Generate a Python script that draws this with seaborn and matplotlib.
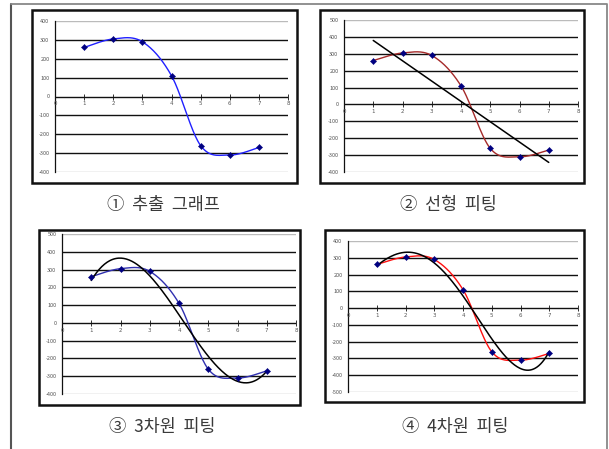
import numpy as np
import pandas as pd
import matplotlib
matplotlib.use('Agg')
import matplotlib.pyplot as plt
from matplotlib.patches import Rectangle
import seaborn as sns

# measured points
x_vals = [1, 2, 3, 4, 5, 6, 7]
y_vals = [260, 305, 290, 110, -260, -310, -270]

captions = ['①  추출  그래프', '②  선형  피팅', '③  3차원  피팅', '④  4차원  피팅']
y_ranges = [(-400, 400), (-400, 500), (-400, 500), (-500, 400)]
fit_degrees = [None, 1, 3, 4]
curve_colors = ['#2020ff', '#a52a2a', '#3030b0', '#ff1010']

sns.set_style('white')
plt.rcParams['font.family'] = ['Noto Sans CJK KR', 'DejaVu Sans']

W, H = 609, 449
fig = plt.figure(figsize=(W / 100, H / 100), dpi=100)

# background layer in pixel coordinates
bg = fig.add_axes([0, 0, 1, 1])
bg.set_xlim(0, W)
bg.set_ylim(H, 0)
bg.axis('off')
bg.plot([11, 11], [449, 4], color='#555555', lw=1.5)
bg.plot([11, 607, 607], [4, 4, 449], color='#888888', lw=1.3)

# layout per panel: chart box, plot area (x0, x8, ytop, ybottom), caption centre
boxes = [(32, 10, 297, 183), (320, 10, 584, 183), (39, 230, 300, 405), (325, 230, 584, 402)]
areas = [(55, 288, 21, 172), (344, 578, 20, 172), (62, 296, 234, 394), (348, 578, 241, 392)]
cap_pos = [(163, 205), (448, 205), (162, 427), (455, 427)]


def smooth(xs, ys, n=40):
    # Excel-like smoothed line (Catmull-Rom bezier)
    pts = np.column_stack([xs, ys]).astype(float)
    P = np.vstack([pts[0], pts, pts[-1]])
    t = np.linspace(0, 1, n)[:, None]
    segs = []
    for i in range(1, len(P) - 2):
        p0, p1, p2, p3 = P[i - 1], P[i], P[i + 1], P[i + 2]
        c1 = p1 + (p2 - p0) / 6
        c2 = p2 - (p3 - p1) / 6
        segs.append((1 - t) ** 3 * p1 + 3 * (1 - t) ** 2 * t * c1 + 3 * (1 - t) * t ** 2 * c2 + t ** 3 * p2)
    return np.vstack(segs)


df = pd.DataFrame({'x': x_vals, 'y': y_vals})

for k in range(4):
    bx0, by0, bx1, by1 = boxes[k]
    bg.add_patch(Rectangle((bx0, by0), bx1 - bx0, by1 - by0, fill=False, ec='#111111', lw=1.8))
    cx, cy = cap_pos[k]
    bg.text(cx, cy, captions[k], ha='center', va='center', fontsize=12.5, color='#3a3a3a')

    ax0, ax1, ay0, ay1 = areas[k]
    ax = fig.add_axes([ax0 / W, 1 - ay1 / H, (ax1 - ax0) / W, (ay1 - ay0) / H])
    ax.patch.set_alpha(0)
    lo, hi = y_ranges[k]
    ax.set_xlim(0, 8)
    ax.set_ylim(lo, hi)
    ticks = list(range(lo, hi + 1, 100))
    for v in ticks:
        c = '#bbbbbb' if v in (lo, hi) else '#111111'
        ax.axhline(v, color=c, lw=1.0, zorder=1)
    for s in ['top', 'right', 'bottom']:
        ax.spines[s].set_visible(False)
    ax.spines['left'].set_color('#111111')
    ax.spines['left'].set_linewidth(0.9)
    ax.set_xticks([])
    ax.set_yticks(ticks)
    ax.set_yticklabels([str(v) for v in ticks])
    ax.tick_params(axis='y', direction='out', length=2, width=0.6, labelsize=4,
                   labelcolor='#555555', pad=2, color='#111111')
    # x tick marks and labels on the zero line
    ax.plot(range(0, 9), [0] * 9, ls='none', marker='|', ms=4, mew=0.6, color='#111111', zorder=2)
    for i in range(0, 9):
        ax.annotate(str(i), (i, 0), xytext=(0, -3.5), textcoords='offset points',
                    ha='center', va='top', fontsize=4, color='#555555', family='DejaVu Sans')

    sm = smooth(x_vals, y_vals)
    sns.lineplot(x=sm[:, 0], y=sm[:, 1], sort=False, color=curve_colors[k], lw=1.0, ax=ax, zorder=3)

    deg = fit_degrees[k]
    if deg is not None:
        coef = np.polyfit(x_vals, y_vals, deg)
        xf = np.linspace(1, 7, 200)
        sns.lineplot(x=xf, y=np.polyval(coef, xf), color='#000000', lw=1.1, ax=ax, zorder=4)

    sns.scatterplot(data=df, x='x', y='y', marker='D', s=10, color='#000080', edgecolor='#000080',
                    linewidth=0.3, ax=ax, zorder=5)
    ax.set_xlabel('')
    ax.set_ylabel('')

fig.savefig('out.png', dpi=100)
